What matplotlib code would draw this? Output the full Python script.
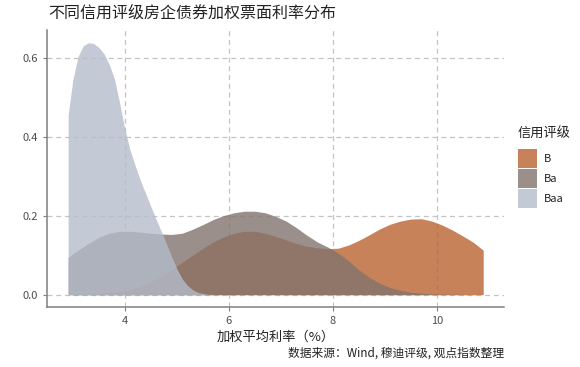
import matplotlib
matplotlib.use("Agg")
import matplotlib.pyplot as plt
from matplotlib.patches import Rectangle

plt.rcParams['font.family'] = ['Noto Sans CJK SC', 'DejaVu Sans']

# density curves
baa_x = [2.91, 3.0, 3.1, 3.2, 3.3, 3.4, 3.5, 3.6, 3.7, 3.8, 3.9, 4.0, 4.1, 4.2,
         4.3, 4.4, 4.5, 4.6, 4.7, 4.8, 4.9, 5.0, 5.1, 5.2, 5.3, 5.4, 5.5, 5.6,
         5.8, 10.89]
baa_y = [0.456, 0.545, 0.605, 0.632, 0.640, 0.638, 0.628, 0.612, 0.585, 0.548,
         0.487, 0.420, 0.368, 0.327, 0.290, 0.257, 0.224, 0.192, 0.161, 0.129,
         0.097, 0.066, 0.041, 0.024, 0.013, 0.006, 0.003, 0.001, 0.0, 0.0]

ba_x = [2.91, 3.1, 3.3, 3.5, 3.7, 3.9, 4.1, 4.3, 4.5, 4.7, 4.9, 5.1, 5.3, 5.5,
        5.7, 5.9, 6.1, 6.3, 6.5, 6.7, 6.9, 7.1, 7.3, 7.5, 7.7, 7.9, 8.1, 8.3,
        8.5, 8.7, 8.9, 9.1, 9.3, 9.5, 9.7, 9.9, 10.3, 10.89]
ba_y = [0.095, 0.113, 0.130, 0.146, 0.156, 0.161, 0.161, 0.159, 0.156, 0.154,
        0.153, 0.156, 0.166, 0.178, 0.191, 0.201, 0.208, 0.212, 0.212, 0.208,
        0.199, 0.187, 0.170, 0.151, 0.134, 0.121, 0.106, 0.086, 0.063, 0.044,
        0.029, 0.018, 0.011, 0.006, 0.004, 0.002, 0.001, 0.0]

b_x = [2.91, 3.1, 3.3, 3.5, 3.7, 3.9, 4.1, 4.3, 4.5, 4.7, 4.9, 5.1, 5.3, 5.5,
       5.7, 5.9, 6.1, 6.3, 6.5, 6.7, 6.9, 7.1, 7.3, 7.5, 7.7, 7.9, 8.1, 8.3,
       8.5, 8.7, 8.9, 9.1, 9.3, 9.5, 9.7, 9.9, 10.1, 10.3, 10.5, 10.7, 10.89]
b_y = [0.0, 0.001, 0.002, 0.003, 0.005, 0.008, 0.013, 0.021, 0.033, 0.047,
       0.064, 0.082, 0.100, 0.118, 0.134, 0.147, 0.156, 0.161, 0.161, 0.156,
       0.148, 0.139, 0.130, 0.123, 0.119, 0.117, 0.118, 0.126, 0.138, 0.152,
       0.167, 0.179, 0.187, 0.192, 0.193, 0.187, 0.177, 0.164, 0.149, 0.133,
       0.113]

grades = ["B", "Ba", "Baa"]
colors = ["#ba6331", "#81736d", "#b4bccb"]

xticks = [4, 6, 8, 10]
yticks = [0.0, 0.2, 0.4, 0.6]

W, H = 580, 367
fig = plt.figure(figsize=(W / 100, H / 100), dpi=100)
ax = fig.add_axes([0.0816, 0.1627, 0.869 - 0.0816, 0.918 - 0.1627])

series = [(b_x, b_y), (ba_x, ba_y), (baa_x, baa_y)]
for (xs, ys), c in zip(series, colors):
    ax.fill_between(xs, 0, ys, color=c, alpha=0.8, linewidth=0, zorder=2)

ax.set_xlim(2.51, 11.29)
ax.set_ylim(-0.032, 0.672)
ax.set_xticks(xticks)
ax.set_xticklabels([str(v) for v in xticks])
ax.set_yticks(yticks)
ax.set_yticklabels([f"{v:.1f}" for v in yticks])

ax.grid(True, color="#c4c4c4", linestyle=(0, (4, 3)), linewidth=0.9, zorder=0)
ax.set_axisbelow(True)
for s in ["top", "right"]:
    ax.spines[s].set_visible(False)
for s in ["left", "bottom"]:
    ax.spines[s].set_color("#7f7f7f")
    ax.spines[s].set_linewidth(1.1)
ax.tick_params(colors="#7f7f7f", labelcolor="#4d4d4d", labelsize=8,
               length=3, width=0.8)

ax.set_xlabel("加权平均利率（%）", fontsize=9.5, color="#222222", labelpad=3)
fig.text(0.869, 0.038, "数据来源：Wind, 穆迪评级, 观点指数整理", ha="right",
         va="center", fontsize=8.5, color="#222222")
fig.text(0.083, 0.963, "不同信用评级房企债券加权票面利率分布", ha="left",
         va="center", fontsize=11.5, color="#222222")

# legend drawn by hand in pixel positions
fig.text(518 / W, 1 - 134 / H, "信用评级", ha="left", va="center",
         fontsize=9.5, color="#222222")
for i, (g, c) in enumerate(zip(grades, colors)):
    top = 149 + i * 20
    fig.add_artist(Rectangle((518 / W, 1 - (top + 18.5) / H), 18.5 / W,
                             18.5 / H, transform=fig.transFigure,
                             facecolor=c, alpha=0.8, edgecolor="none"))
    fig.text(544 / W, 1 - (top + 9.5) / H, g, ha="left", va="center",
             fontsize=8, color="#222222")

fig.savefig("out.png", dpi=100)
